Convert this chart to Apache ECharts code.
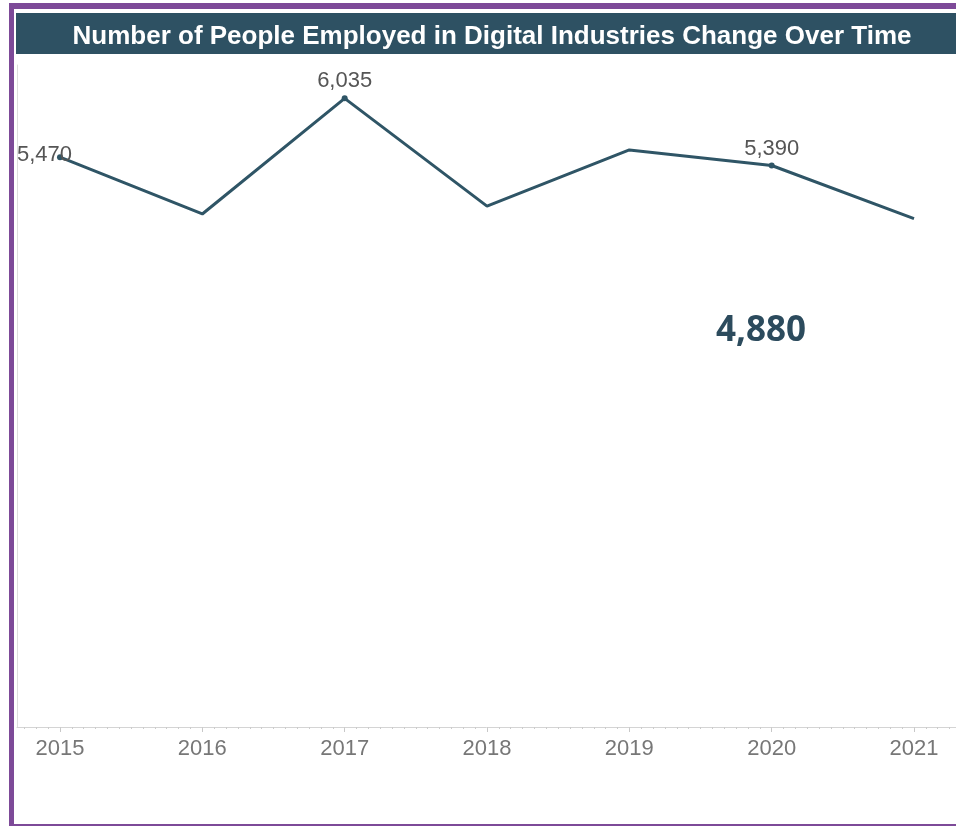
<!DOCTYPE html>
<html>
<head>
<meta charset="utf-8">
<script src="https://cdn.jsdelivr.net/npm/echarts@6/dist/echarts.min.js"></script>
<style>
  html, body { margin: 0; padding: 0; background: #ffffff; }
  #chart { width: 956px; height: 826px; }
</style>
</head>
<body>
<div id="chart"></div>
<script>
// ---- data ----
const years = [2015, 2016, 2017, 2018, 2019, 2020, 2021];
const employed = [5470, 4925, 6035, 5000, 5540, 5390, 4880];
const labeledYears = [2015, 2017, 2020];
const titleText = 'Number of People Employed in Digital Industries Change Over Time';

// ---- build ----
const fmt = v => v.toLocaleString('en-US');
const xMin = 2014.698, xMax = 2021.295;
const monthTicks = [];
for (let y = 2014; y <= 2022; y++) {
  for (let m = 0; m < 12; m++) {
    const v = y + m / 12;
    if (v >= xMin && v <= xMax) monthTicks.push(v);
  }
}
const lineColor = '#2f5566';
const seriesData = years.map((yr, i) => {
  const labeled = labeledYears.indexOf(yr) >= 0;
  const item = { value: [yr, employed[i]] };
  if (labeled) {
    item.symbol = 'circle';
    item.symbolSize = 6;
    item.label = { show: true };
    if (i === 0) item.label = { show: true, position: 'left', distance: 0, offset: [15, -2] };
  } else {
    item.symbol = 'none';
  }
  return item;
});

const chart = echarts.init(document.getElementById('chart'), null, { renderer: 'canvas' });
chart.setOption({
  animation: false,
  backgroundColor: '#ffffff',
  title: {
    text: titleText,
    left: 487,
    top: 19,
    textAlign: 'center',
    textStyle: { color: '#ffffff', fontFamily: 'Liberation Sans, Arial, sans-serif', fontWeight: 'bold', fontSize: 26 }
  },
  graphic: [
    { type: 'rect', z: -1, shape: { x: 9, y: 3, width: 947, height: 6 }, style: { fill: '#7d4a98' } },
    { type: 'rect', z: -1, shape: { x: 9, y: 3, width: 5, height: 823 }, style: { fill: '#7d4a98' } },
    { type: 'rect', z: -1, shape: { x: 9, y: 824, width: 947, height: 2 }, style: { fill: '#7d4a98' } },
    { type: 'rect', z: -1, shape: { x: 16, y: 13, width: 940, height: 41 }, style: { fill: '#2e5163' } },
    {
      type: 'text', x: 761, y: 331,
      style: {
        text: fmt(employed[employed.length - 1]),
        fill: '#2c4b5d', font: 'bold 35px "Open Sans", sans-serif',
        textAlign: 'center', textVerticalAlign: 'middle'
      }
    }
  ],
  grid: { left: 17, right: 0, top: 65, bottom: 99, containLabel: false },
  xAxis: [
    {
      type: 'value', min: xMin, max: xMax,
      axisLine: { show: true, lineStyle: { color: '#d4d4d4', width: 1 } },
      axisTick: { show: true, customValues: years, length: 5, lineStyle: { color: '#c8c8c8' } },
      axisLabel: {
        show: true, customValues: years, margin: 11,
        formatter: v => String(Math.round(v)),
        color: '#777777', fontSize: 22, fontFamily: 'Liberation Sans, Arial, sans-serif'
      },
      splitLine: { show: false }
    },
    {
      type: 'value', min: xMin, max: xMax, position: 'bottom',
      axisLine: { show: false },
      axisTick: { show: true, customValues: monthTicks, length: 2, lineStyle: { color: '#cccccc' } },
      axisLabel: { show: false },
      splitLine: { show: false }
    }
  ],
  yAxis: {
    type: 'value', min: 0, max: 6355,
    axisLine: { show: true, lineStyle: { color: '#dddddd', width: 1 } },
    axisTick: { show: false },
    axisLabel: { show: false },
    splitLine: { show: false }
  },
  series: [{
    type: 'line',
    xAxisIndex: 0,
    data: seriesData,
    lineStyle: { color: lineColor, width: 3 },
    itemStyle: { color: lineColor },
    label: {
      show: false, position: 'top', distance: 3,
      formatter: p => fmt(p.value[1]),
      color: '#555555', fontSize: 22, fontFamily: 'Liberation Sans, Arial, sans-serif'
    }
  }]
});
</script>
</body>
</html>
